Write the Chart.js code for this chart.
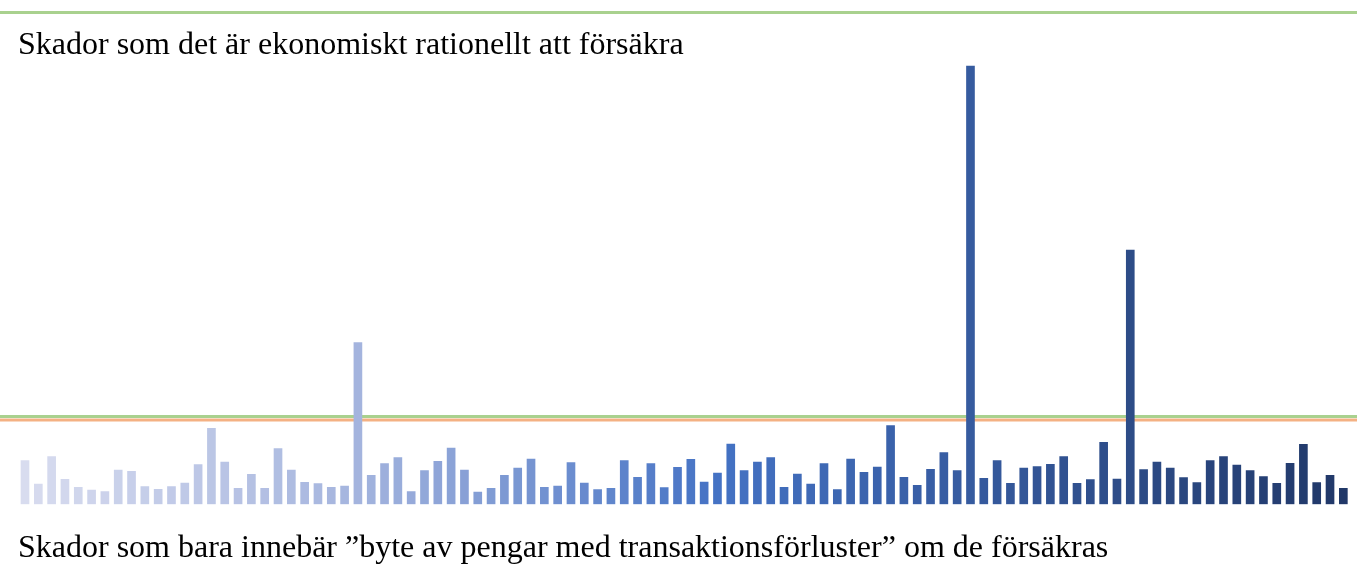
<!DOCTYPE html>
<html>
<head>
<meta charset="utf-8">
<script src="https://cdn.jsdelivr.net/npm/chart.js@4/dist/chart.umd.min.js"></script>
<style>
  html, body { margin: 0; padding: 0; background: #ffffff; }
  #wrap { width: 1357px; height: 576px; }
</style>
</head>
<body>
<div id="wrap"><canvas id="c" width="1357" height="576"></canvas></div>
<script>
// ---- data ----
const categories = Array.from({length: 100}, (_, i) => String(i + 1));
const lossValues = [
  43.6, 20.3, 47.6, 25, 17, 14.3, 12.6, 34.3, 33, 17.6,
  15, 17.6, 21.3, 39.6, 76, 42.3, 16, 30, 16, 55.6,
  34.3, 22, 20.6, 17, 18.3, 161.6, 29, 40.6, 46.6, 12.6,
  33.6, 43, 56.3, 34.3, 12.3, 16, 29, 36.3, 45.3, 17,
  18.3, 41.6, 21.3, 14.6, 16, 43.6, 27, 40.6, 16.6, 37,
  45, 22.3, 31.3, 60.3, 33.6, 42.3, 46.6, 17, 30.3, 20.3,
  40.6, 14.6, 45.3, 32, 37.3, 78.6, 27, 19, 35, 51.6,
  33.6, 438.3, 26, 43.6, 21, 36.3, 37.6, 40, 47.6, 21,
  24.6, 62, 25.3, 254.3, 34.6, 42.3, 36.3, 26.6, 21.6, 43.6,
  47.6, 39.3, 33.6, 27.6, 21, 41, 60, 21.6, 29, 16
];
const thresholdGreen = 87.8;
const thresholdOrange = 84.3;
const topLineValue = 491.8;
const yMax = 504.3;
const labelTop = "Skador som det är ekonomiskt rationellt att försäkra";
const labelBottom = "Skador som bara innebär \u201dbyte av pengar med transaktionsförluster\u201d om de försäkras";

// ---- colours: light -> mid blue -> dark navy ----
const cStart = [216, 220, 239], cQuarter = [164, 180, 222], cMid = [68, 114, 196], cEnd = [33, 56, 104];
function mix(a, b, t) { return a.map((v, k) => Math.round(v + (b[k] - v) * t)); }
const barColors = lossValues.map((_, i) => {
  const n = lossValues.length - 1;
  let rgb;
  if (i <= 25) rgb = mix(cStart, cQuarter, i / 25);
  else if (i <= 52) rgb = mix(cQuarter, cMid, (i - 25) / 27);
  else rgb = mix(cMid, cEnd, (i - 52) / (n - 52));
  return `rgb(${rgb[0]},${rgb[1]},${rgb[2]})`;
});

const decor = {
  id: 'decor',
  beforeDatasetsDraw(chart) {
    const ctx = chart.ctx, y = chart.scales.y, W = chart.width;
    ctx.save();
    const line = (v, color, w) => {
      const py = y.getPixelForValue(v);
      ctx.strokeStyle = color; ctx.lineWidth = w;
      ctx.beginPath(); ctx.moveTo(0, py); ctx.lineTo(W, py); ctx.stroke();
    };
    line(topLineValue, '#a9d18e', 3);
    line(thresholdOrange, '#f4b183', 3);
    line(thresholdGreen, '#a9d18e', 3);
    ctx.restore();
  },
  afterDraw(chart) {
    const ctx = chart.ctx;
    ctx.save();
    ctx.fillStyle = '#000000';
    ctx.font = '32px "Liberation Serif", "Times New Roman", serif';
    ctx.textBaseline = 'alphabetic';
    ctx.textAlign = 'left';
    ctx.fillText(labelTop, 18, 53.5);
    ctx.fillText(labelBottom, 18, 557);
    ctx.restore();
  }
};

new Chart(document.getElementById('c'), {
  type: 'bar',
  data: {
    labels: categories,
    datasets: [{
      data: lossValues,
      backgroundColor: barColors,
      borderWidth: 0,
      barThickness: 8
    }]
  },
  options: {
    responsive: false,
    animation: false,
    devicePixelRatio: 1,
    layout: { padding: { left: 18.34, right: 7, top: 0, bottom: 71.7 } },
    plugins: { legend: { display: false }, tooltip: { enabled: false }, title: { display: false } },
    scales: {
      x: { display: false, offset: true, grid: { display: false } },
      y: { display: false, min: 0, max: yMax, grid: { display: false } }
    }
  },
  plugins: [decor]
});
</script>
</body>
</html>
